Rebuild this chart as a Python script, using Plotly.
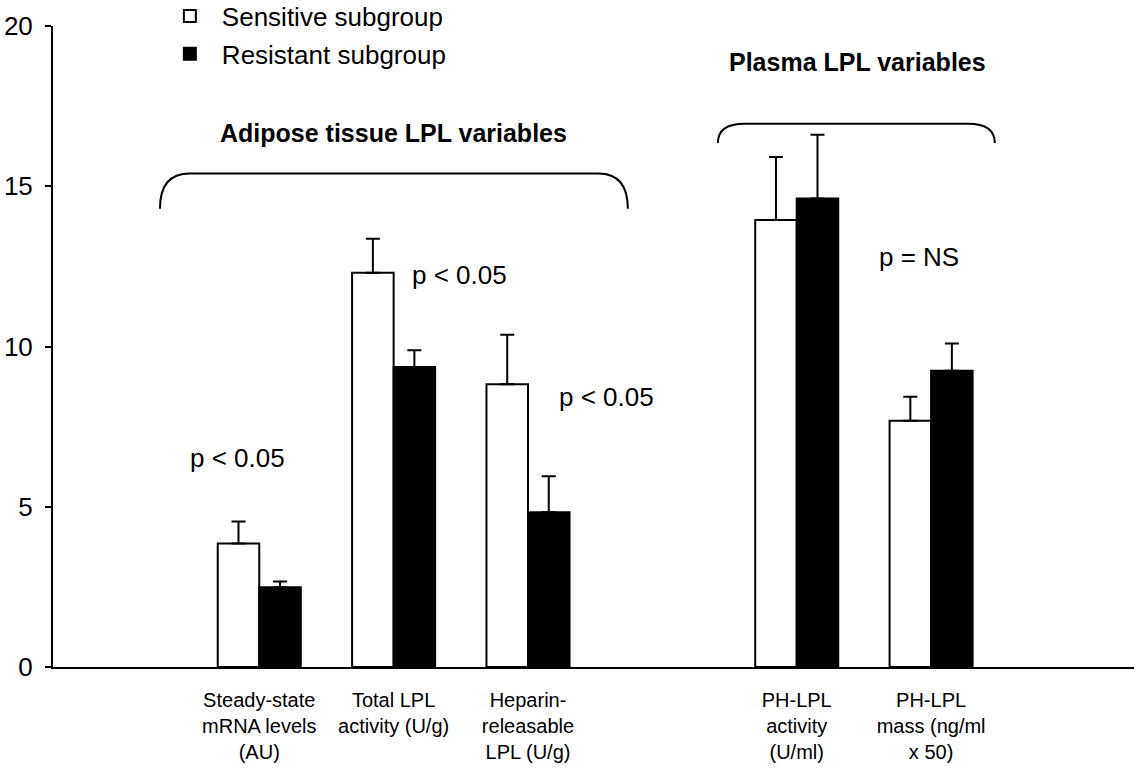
import plotly.graph_objects as go

# LPL variables, grouped: adipose tissue (x = 1..3) and plasma (x = 5..6)
positions = [1, 2, 3, 5, 6]
categories = [
    "Steady-state<br>mRNA levels<br>(AU)",
    "Total LPL<br>activity (U/g)",
    "Heparin-<br>releasable<br>LPL (U/g)",
    "PH-LPL<br>activity<br>(U/ml)",
    "PH-LPL<br>mass (ng/ml<br>x 50)",
]
sensitive_mean = [3.85, 12.30, 8.82, 13.95, 7.68]
sensitive_err = [0.69, 1.06, 1.55, 1.96, 0.75]
resistant_mean = [2.49, 9.36, 4.83, 14.62, 9.24]
resistant_err = [0.18, 0.52, 1.12, 1.99, 0.85]
y_ticks = [0, 5, 10, 15, 20]

FONT = "Arial, Liberation Sans, sans-serif"
BAR_W = 0.309

fig = go.Figure()
fig.add_trace(go.Bar(
    name="Sensitive subgroup", x=positions, y=sensitive_mean,
    width=BAR_W, offset=-BAR_W,
    marker=dict(color="white", line=dict(color="black", width=2)),
    error_y=dict(type="data", symmetric=False, array=sensitive_err,
                 arrayminus=[0] * len(sensitive_err),
                 color="black", thickness=2, width=7),
    legendgroup="s",
))
fig.add_trace(go.Bar(
    name="Resistant subgroup", x=positions, y=resistant_mean,
    width=BAR_W, offset=0,
    marker=dict(color="black", line=dict(color="black", width=2)),
    error_y=dict(type="data", symmetric=False, array=resistant_err,
                 arrayminus=[0] * len(resistant_err),
                 color="black", thickness=2, width=7),
    legendgroup="r",
))


def brace(x0, x1, y_top, y_end, dx):
    return (f"M {x0},{y_end} Q {x0},{y_top} {x0 + dx},{y_top} "
            f"L {x1 - dx},{y_top} Q {x1},{y_top} {x1},{y_end}")


fig.add_shape(type="path", xref="x", yref="y",
              path=brace(0.261, 3.743, 15.4, 14.3, 0.22),
              line=dict(color="black", width=2))
fig.add_shape(type="path", xref="x", yref="y",
              path=brace(4.413, 6.474, 16.95, 16.35, 0.2),
              line=dict(color="black", width=2))

fig.add_annotation(x=2.0, y=16.65, xref="x", yref="y",
                   text="<b>Adipose tissue LPL variables</b>",
                   showarrow=False, font=dict(size=25, family=FONT, color="black"))
fig.add_annotation(x=5.45, y=18.87, xref="x", yref="y",
                   text="<b>Plasma LPL variables</b>",
                   showarrow=False, font=dict(size=25, family=FONT, color="black"))

p_labels = [("p < 0.05", 0.469, 6.51), ("p < 0.05", 2.121, 12.22),
            ("p < 0.05", 3.213, 8.41), ("p = NS", 5.60, 12.78)]
for txt, px, py in p_labels:
    fig.add_annotation(x=px, y=py, xref="x", yref="y", text=txt,
                       xanchor="left", showarrow=False,
                       font=dict(size=26, family=FONT, color="black"))

fig.update_layout(
    width=1136, height=778,
    margin=dict(l=53, r=2, t=26, b=111, autoexpand=False),
    paper_bgcolor="white", plot_bgcolor="white",
    barmode="overlay",
    font=dict(family=FONT, color="black"),
    showlegend=True,
    legend=dict(x=0.097, y=1.052, xanchor="left", yanchor="top",
                bgcolor="rgba(0,0,0,0)", itemwidth=54,
                tracegroupgap=1,
                font=dict(size=26, family=FONT, color="black")),
    xaxis=dict(range=[-0.535, 7.51], tickvals=positions, ticktext=categories,
               showline=True, linecolor="black", linewidth=2,
               showgrid=False, zeroline=False, ticks="",
               tickfont=dict(size=20, family=FONT, color="black"),
               ticklabelstandoff=14),
    yaxis=dict(range=[0, 20], tickvals=y_ticks,
               showline=True, linecolor="black", linewidth=2,
               showgrid=False, zeroline=False,
               ticks="outside", ticklen=6, tickwidth=2, tickcolor="black",
               tickfont=dict(size=26, family=FONT, color="black"),
               ticklabelstandoff=7),
)

fig.write_html("out.html")
